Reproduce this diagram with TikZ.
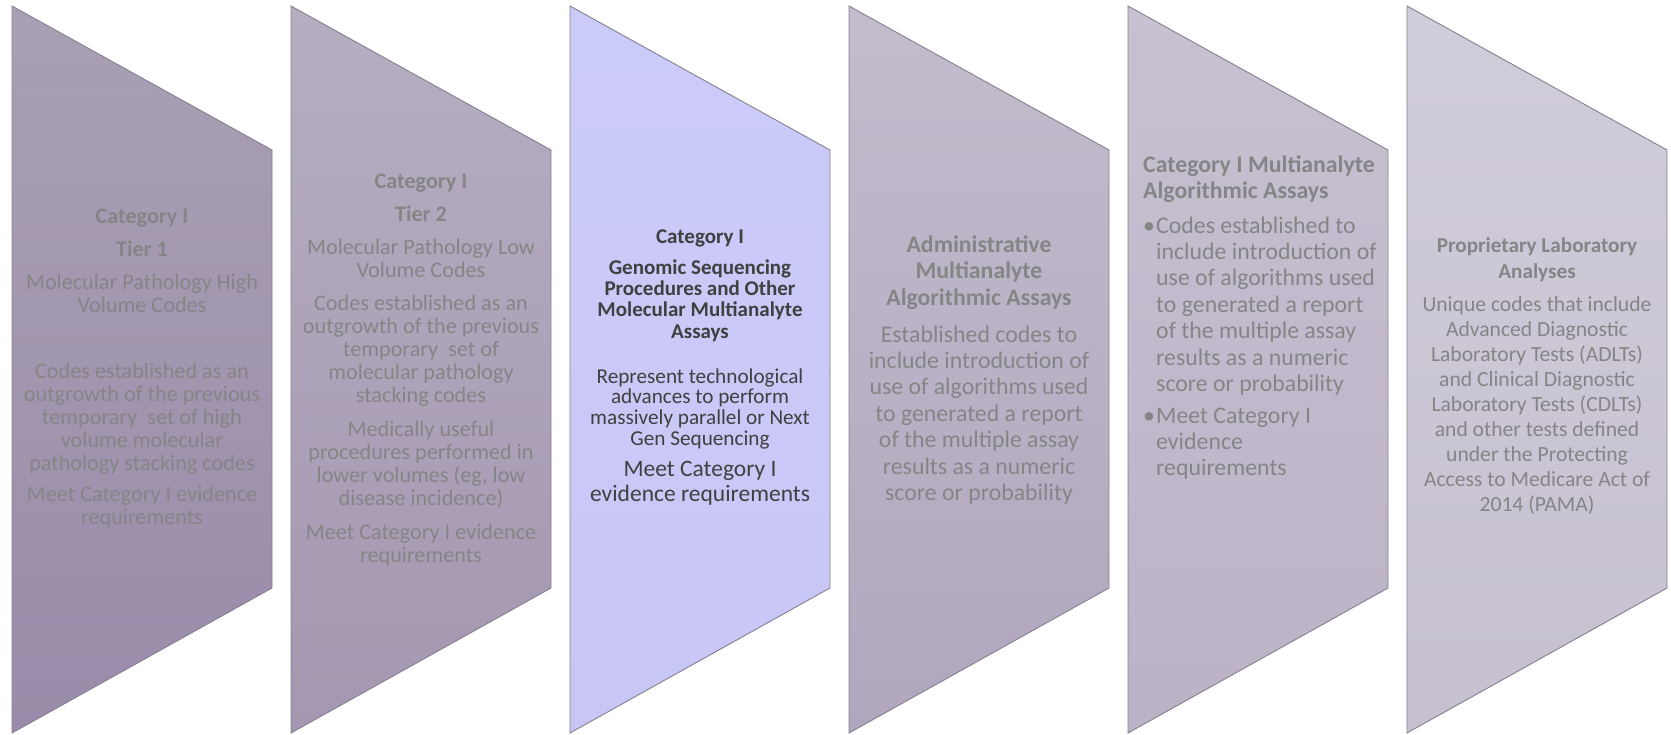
\documentclass[tikz,border=0pt]{standalone}
\usepackage{fontspec}
\setmainfont{Carlito}
\definecolor{strk}{HTML}{85808F}
\definecolor{tg}{HTML}{858585}
\definecolor{td}{HTML}{404040}
\definecolor{aT}{HTML}{A8A0B4}\definecolor{aB}{HTML}{9A8BAA}
\definecolor{bT}{HTML}{B5AEC1}\definecolor{bB}{HTML}{A497B1}
\definecolor{cT}{HTML}{CBCBFA}\definecolor{cB}{HTML}{C8C6F5}
\definecolor{dT}{HTML}{C2BCCC}\definecolor{dB}{HTML}{B0A6BE}
\definecolor{eT}{HTML}{C7C1D1}\definecolor{eB}{HTML}{BBB2C6}
\definecolor{fT}{HTML}{D1CCDA}\definecolor{fB}{HTML}{C6C0D0}
% NB: the base anchor of a multi-line node is the baseline of its LAST line
\tikzset{
  panel/.style={draw=strk, line width=0.9pt},
  txt/.style={anchor=base, align=center, inner sep=0pt, text=tg},
  ltxt/.style={anchor=base west, align=left, inner sep=0pt, text=tg},
  fsA/.style={font={\fontsize{22.2}{23.2}\selectfont}},
  fsAb/.style={font={\fontsize{22.2}{23.2}\selectfont\bfseries}},
  fsC/.style={font={\fontsize{21.2}{20.8}\selectfont}},
  fsCb/.style={font={\fontsize{21}{21.4}\selectfont\bfseries}},
  fsCm/.style={font={\fontsize{23.5}{25}\selectfont}},
  fsD/.style={font={\fontsize{23.8}{26.4}\selectfont}},
  fsDb/.style={font={\fontsize{23.8}{26.5}\selectfont\bfseries}},
  fsE/.style={font={\fontsize{23.8}{26}\selectfont}},
  fsF/.style={font={\fontsize{21.6}{25.1}\selectfont}},
  fsFb/.style={font={\fontsize{21.2}{26}\selectfont\bfseries}},
}
\begin{document}
\begin{tikzpicture}[x=1pt,y=-1pt]
\useasboundingbox (0,0) rectangle (1671,734);
% panels
\path[panel, top color=aT, bottom color=aB] (12,6) -- (272,150) -- (272,588) -- (12,733) -- cycle;
\path[panel, top color=bT, bottom color=bB] (291,6) -- (551,150) -- (551,588) -- (291,733) -- cycle;
\path[panel, top color=cT, bottom color=cB] (570,6) -- (830,150) -- (830,588) -- (570,733) -- cycle;
\path[panel, top color=dT, bottom color=dB] (849,6) -- (1109,150) -- (1109,588) -- (849,733) -- cycle;
\path[panel, top color=eT, bottom color=eB] (1128,6) -- (1388,150) -- (1388,588) -- (1128,733) -- cycle;
\path[panel, top color=fT, bottom color=fB] (1407,6) -- (1667,150) -- (1667,588) -- (1407,733) -- cycle;
% panel 1
\node[txt, fsAb] (a1) at (142,223) {Category I};
\node[txt, fsAb] (a2) at (142,256) {Tier 1};
\node[txt, fsA] (a3) at (142,312.2) {Molecular Pathology High\\Volume Codes};
\node[txt, fsA] (a4) at (142,470.8) {Codes established as an\\outgrowth of the previous\\temporary\ \ set of high\\volume molecular\\pathology stacking codes};
\node[txt, fsA] (a5) at (142,524.2) {Meet Category I evidence\\requirements};
% panel 2
\node[txt, fsAb] (b1) at (421,188) {Category I};
\node[txt, fsAb] (b2) at (421,221) {Tier 2};
\node[txt, fsA] (b3) at (421,277.2) {Molecular Pathology Low\\Volume Codes};
\node[txt, fsA] (b4) at (421,402.8) {Codes established as an\\outgrowth of the previous\\temporary\ \ set of\\molecular pathology\\stacking codes};
\node[txt, fsA] (b5) at (421,505.6) {Medically useful\\procedures performed in\\lower volumes (eg, low\\disease incidence)};
\node[txt, fsA] (b6) at (421,562.2) {Meet Category I evidence\\requirements};
% panel 3
\node[txt, fsCb, text=td] (c1) at (700,243) {Category I};
\node[txt, fsCb, text=td] (c2) at (700,338.2) {Genomic Sequencing\\Procedures and Other\\Molecular Multianalyte\\Assays};
\node[txt, fsC, text=td] (c3) at (700,445.4) {Represent technological\\advances to perform\\massively parallel or Next\\Gen Sequencing};
\node[txt, fsCm, text=td] (c4) at (700,501) {Meet Category I\\evidence requirements};
% panel 4
\node[txt, fsDb] (d1) at (979,305) {Administrative\\Multianalyte\\Algorithmic Assays};
\node[txt, fsD] (d2) at (979,500.4) {Established codes to\\include introduction of\\use of algorithms used\\to generated a report\\of the multiple assay\\results as a numeric\\score or probability};
% panel 5
\node[ltxt, fsDb] (e1) at (1143,198.5) {Category I Multianalyte\\Algorithmic Assays};
\node[ltxt, fsD] (e2) at (1143,233) {\textbullet};
\node[ltxt, fsD] (e3) at (1156,391.4) {Codes established to\\include introduction of\\use of algorithms used\\to generated a report\\of the multiple assay\\results as a numeric\\score or probability};
\node[ltxt, fsD] (e4) at (1143,423) {\textbullet};
\node[ltxt, fsE] (e5) at (1156,475) {Meet Category I\\evidence\\requirements};
% panel 6
\node[txt, fsFb] (f1) at (1537,278) {Proprietary Laboratory\\Analyses};
\node[txt, fsF] (f2) at (1537,511.8) {Unique codes that include\\Advanced Diagnostic\\Laboratory Tests (ADLTs)\\and Clinical Diagnostic\\Laboratory Tests (CDLTs)\\and other tests defined\\under the Protecting\\Access to Medicare Act of\\2014 (PAMA)};
\end{tikzpicture}
\end{document}
